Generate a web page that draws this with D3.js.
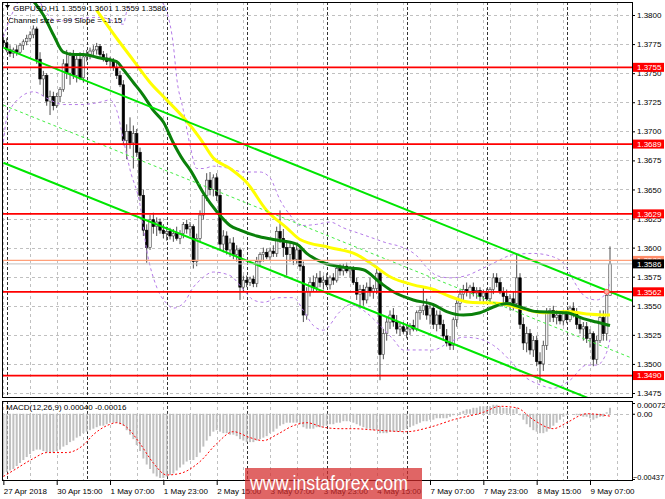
<!DOCTYPE html>
<html>
<head>
<meta charset="utf-8">
<script src="https://cdn.jsdelivr.net/npm/d3@7"></script>
<style>
  html, body { margin: 0; padding: 0; background: #fff; }
  svg { display: block; font-family: "Liberation Sans", Arial, sans-serif; }
</style>
</head>
<body>
<svg id="chart"></svg>
<script>
// GBPUSD H1 bars, [open, high, low, close], first bar 27 Apr 23:00
const candles = [
  [1.3778,1.3784,1.3772,1.3776],[1.3776,1.3780,1.3768,1.3770],[1.3770,1.3774,1.3764,1.3767],[1.3767,1.3772,1.3763,1.3770],
  [1.3770,1.3774,1.3765,1.3768],[1.3768,1.3776,1.3766,1.3774],[1.3774,1.3779,1.3770,1.3777],[1.3777,1.3783,1.3774,1.3780],
  [1.3780,1.3786,1.3777,1.3783],[1.3783,1.3791,1.3780,1.3788],[1.3788,1.3790,1.3758,1.3762],[1.3762,1.3768,1.3740,1.3745],
  [1.3745,1.3752,1.3730,1.3748],[1.3748,1.3750,1.3722,1.3726],[1.3726,1.3735,1.3714,1.3730],[1.3730,1.3734,1.3718,1.3722],
  [1.3722,1.3733,1.3720,1.3730],[1.3730,1.3738,1.3725,1.3736],[1.3736,1.3762,1.3734,1.3758],[1.3758,1.3770,1.3745,1.3750],
  [1.3750,1.3768,1.3740,1.3765],[1.3765,1.3770,1.3745,1.3748],[1.3748,1.3766,1.3742,1.3762],[1.3762,1.3768,1.3744,1.3746],
  [1.3746,1.3766,1.3742,1.3764],[1.3764,1.3770,1.3760,1.3766],[1.3766,1.3772,1.3762,1.3769],[1.3769,1.3774,1.3764,1.3770],
  [1.3770,1.3776,1.3766,1.3773],[1.3773,1.3775,1.3764,1.3766],[1.3766,1.3769,1.3760,1.3763],[1.3763,1.3767,1.3757,1.3760],
  [1.3760,1.3764,1.3755,1.3761],[1.3761,1.3763,1.3752,1.3755],[1.3755,1.3759,1.3745,1.3748],[1.3748,1.3752,1.3738,1.3740],
  [1.3740,1.3744,1.3688,1.3692],[1.3692,1.3706,1.3676,1.3700],[1.3700,1.3712,1.3685,1.3690],[1.3690,1.3705,1.3668,1.3698],
  [1.3698,1.3702,1.3678,1.3682],[1.3682,1.3686,1.3640,1.3645],[1.3645,1.3650,1.3610,1.3615],[1.3615,1.3620,1.3587,1.3600],
  [1.3600,1.3628,1.3598,1.3624],[1.3624,1.3630,1.3612,1.3618],[1.3618,1.3626,1.3610,1.3622],[1.3622,1.3625,1.3612,1.3615],
  [1.3615,1.3620,1.3608,1.3612],[1.3612,1.3618,1.3606,1.3614],[1.3614,1.3617,1.3607,1.3610],[1.3610,1.3616,1.3605,1.3612],
  [1.3612,1.3618,1.3606,1.3608],[1.3608,1.3615,1.3603,1.3612],[1.3612,1.3622,1.3608,1.3620],[1.3620,1.3624,1.3612,1.3616],
  [1.3616,1.3622,1.3610,1.3618],[1.3618,1.3620,1.3582,1.3588],[1.3588,1.3612,1.3584,1.3608],[1.3608,1.3632,1.3605,1.3628],
  [1.3628,1.3648,1.3624,1.3645],[1.3645,1.3664,1.3640,1.3658],[1.3658,1.3665,1.3645,1.3650],[1.3650,1.3663,1.3644,1.3660],
  [1.3660,1.3664,1.3640,1.3645],[1.3645,1.3650,1.3598,1.3603],[1.3603,1.3615,1.3596,1.3610],[1.3610,1.3614,1.3594,1.3598],
  [1.3598,1.3608,1.3592,1.3604],[1.3604,1.3609,1.3590,1.3594],[1.3594,1.3602,1.3588,1.3598],[1.3598,1.3600,1.3555,1.3566],
  [1.3566,1.3576,1.3562,1.3572],[1.3572,1.3576,1.3566,1.3570],[1.3570,1.3575,1.3567,1.3573],[1.3573,1.3576,1.3566,1.3569],
  [1.3569,1.3592,1.3566,1.3588],[1.3588,1.3596,1.3584,1.3594],[1.3594,1.3600,1.3588,1.3596],[1.3596,1.3599,1.3590,1.3592],
  [1.3592,1.3600,1.3589,1.3597],[1.3597,1.3602,1.3592,1.3595],[1.3595,1.3618,1.3592,1.3614],[1.3614,1.3632,1.3604,1.3608],
  [1.3608,1.3616,1.3592,1.3600],[1.3600,1.3606,1.3576,1.3594],[1.3594,1.3604,1.3588,1.3600],[1.3600,1.3604,1.3585,1.3590],
  [1.3590,1.3602,1.3586,1.3598],[1.3598,1.3602,1.3580,1.3584],[1.3584,1.3588,1.3536,1.3542],[1.3542,1.3566,1.3538,1.3562],
  [1.3562,1.3574,1.3558,1.3570],[1.3570,1.3576,1.3562,1.3566],[1.3566,1.3578,1.3562,1.3574],[1.3574,1.3580,1.3566,1.3570],
  [1.3570,1.3576,1.3564,1.3572],[1.3572,1.3578,1.3566,1.3568],[1.3568,1.3576,1.3564,1.3574],[1.3574,1.3578,1.3568,1.3572],
  [1.3572,1.3584,1.3570,1.3582],[1.3582,1.3586,1.3576,1.3580],[1.3580,1.3586,1.3576,1.3584],[1.3584,1.3587,1.3578,1.3580],
  [1.3580,1.3584,1.3574,1.3582],[1.3582,1.3584,1.3568,1.3570],[1.3570,1.3574,1.3555,1.3560],[1.3560,1.3568,1.3548,1.3564],
  [1.3564,1.3568,1.3550,1.3555],[1.3555,1.3570,1.3552,1.3566],[1.3566,1.3574,1.3558,1.3562],[1.3562,1.3568,1.3556,1.3565],
  [1.3565,1.3582,1.3560,1.3578],[1.3578,1.3580,1.3486,1.3508],[1.3508,1.3530,1.3504,1.3526],[1.3526,1.3540,1.3520,1.3536],
  [1.3536,1.3546,1.3530,1.3542],[1.3542,1.3548,1.3532,1.3536],[1.3536,1.3542,1.3526,1.3530],[1.3530,1.3536,1.3524,1.3532],
  [1.3532,1.3536,1.3526,1.3528],[1.3528,1.3534,1.3522,1.3530],[1.3530,1.3535,1.3525,1.3533],[1.3533,1.3538,1.3528,1.3530],
  [1.3530,1.3546,1.3528,1.3544],[1.3544,1.3550,1.3538,1.3546],[1.3546,1.3566,1.3542,1.3550],[1.3550,1.3556,1.3538,1.3542],
  [1.3542,1.3552,1.3534,1.3548],[1.3548,1.3552,1.3530,1.3534],[1.3534,1.3546,1.3528,1.3542],[1.3542,1.3546,1.3530,1.3534],
  [1.3534,1.3538,1.3520,1.3524],[1.3524,1.3530,1.3515,1.3518],[1.3518,1.3524,1.3512,1.3516],[1.3516,1.3540,1.3512,1.3538],
  [1.3538,1.3556,1.3532,1.3552],[1.3552,1.3564,1.3546,1.3560],[1.3560,1.3568,1.3555,1.3564],[1.3564,1.3570,1.3558,1.3562],
  [1.3562,1.3568,1.3556,1.3566],[1.3566,1.3570,1.3558,1.3561],[1.3561,1.3566,1.3556,1.3563],[1.3563,1.3566,1.3554,1.3558],
  [1.3558,1.3564,1.3552,1.3561],[1.3561,1.3565,1.3554,1.3556],[1.3556,1.3566,1.3552,1.3564],[1.3564,1.3578,1.3560,1.3574],
  [1.3574,1.3578,1.3566,1.3570],[1.3570,1.3574,1.3560,1.3562],[1.3562,1.3566,1.3552,1.3558],[1.3558,1.3564,1.3550,1.3553],
  [1.3553,1.3560,1.3546,1.3556],[1.3556,1.3562,1.3546,1.3552],[1.3552,1.3594,1.3548,1.3574],[1.3574,1.3578,1.3530,1.3534],
  [1.3534,1.3540,1.3512,1.3518],[1.3518,1.3532,1.3510,1.3526],[1.3526,1.3530,1.3508,1.3512],[1.3512,1.3524,1.3506,1.3520],
  [1.3520,1.3524,1.3498,1.3502],[1.3502,1.3510,1.3484,1.3500],[1.3500,1.3520,1.3494,1.3516],[1.3516,1.3548,1.3512,1.3544],
  [1.3544,1.3548,1.3536,1.3546],[1.3546,1.3550,1.3536,1.3540],[1.3540,1.3546,1.3534,1.3542],[1.3542,1.3545,1.3534,1.3537],
  [1.3537,1.3546,1.3533,1.3543],[1.3543,1.3546,1.3535,1.3538],[1.3538,1.3550,1.3536,1.3548],[1.3548,1.3553,1.3540,1.3544],
  [1.3544,1.3548,1.3530,1.3534],[1.3534,1.3540,1.3526,1.3530],[1.3530,1.3536,1.3520,1.3532],[1.3532,1.3536,1.3518,1.3522],
  [1.3522,1.3530,1.3514,1.3526],[1.3526,1.3528,1.3498,1.3504],[1.3504,1.3524,1.3500,1.3520],[1.3520,1.3546,1.3518,1.3540],
  [1.3540,1.3546,1.3520,1.3526],[1.3526,1.3562,1.3520,1.3559],[1.3559,1.3601,1.3559,1.3586]
];

// moving averages and bands, [bar, price]
const yellowMA = [[28,1.3804],[34,1.3780],[39,1.3761],[44,1.3742],[49,1.3727],[54,1.3712],[59,1.3694],[63,1.3677],
  [68,1.3668],[73,1.3656],[79,1.3632],[85,1.3617],[89,1.3607],[98,1.3600],[106,1.3594],[111,1.3585],[116,1.3575],
  [123,1.3568],[129,1.3564],[134,1.3558],[140,1.3553],[149,1.3552],[155,1.3548],[162,1.3544],[169,1.3545],[175,1.3543],[182,1.3542]];
const greenMA = [[9,1.3812],[12,1.3800],[15,1.3783],[18,1.3768],[21,1.3766],[24,1.3766],[29,1.3763],[34,1.3760],
  [36,1.3753],[39,1.3742],[42,1.3731],[45,1.3718],[48,1.3708],[51,1.3690],[54,1.3675],[56,1.3667],[60,1.3647],
  [64,1.3631],[68,1.3619],[71,1.3615],[76,1.3610],[81,1.3607],[88,1.3603],[91,1.3595],[96,1.3587],[102,1.3583],
  [108,1.3581],[113,1.3570],[117,1.3562],[123,1.3555],[129,1.3551],[133,1.3545],[138,1.3542],[143,1.3544],
  [148,1.3550],[151,1.3552],[155,1.3549],[160,1.3545],[169,1.3544],[174,1.3539],[178,1.3536],[182,1.3533]];
const bandUpper = [[0,1.3781],[2,1.3797],[4,1.3809],[6,1.3818],[9,1.3820],[12,1.3806],[15,1.3796],[18,1.3795],
  [23,1.3797],[29,1.3798],[33,1.3795],[36,1.3792],[37,1.3803],[40,1.3816],[44,1.3820],[47,1.3813],[49,1.3803],
  [51,1.3774],[52,1.3746],[54,1.3718],[56,1.3688],[58,1.3668],[60,1.3668],[63,1.3670],[68,1.3668],[72,1.3665],
  [77,1.3665],[80,1.3660],[83,1.3641],[86,1.3628],[89,1.3619],[94,1.3620],[98,1.3622],[102,1.3617],[107,1.3612],
  [112,1.3607],[115,1.3604],[119,1.3601],[124,1.3593],[127,1.3583],[130,1.3576],[134,1.3574],[139,1.3576],
  [143,1.3581],[148,1.3588],[153,1.3594],[159,1.3595],[165,1.3592],[169,1.3583],[171,1.3572],[175,1.3557],
  [178,1.3555],[181,1.3562],[182,1.3570]];
const bandLower = [[0,1.3691],[1,1.3711],[5,1.3729],[9,1.3734],[14,1.3727],[18,1.3723],[23,1.3723],[29,1.3725],
  [32,1.3727],[34,1.3718],[36,1.3693],[38,1.3667],[41,1.3637],[43,1.3598],[46,1.3566],[49,1.3552],[51,1.3548],
  [54,1.3552],[57,1.3566],[59,1.3572],[63,1.3579],[68,1.3576],[72,1.3564],[75,1.3555],[78,1.3553],[83,1.3557],
  [87,1.3557],[90,1.3546],[93,1.3533],[96,1.3529],[101,1.3545],[104,1.3551],[108,1.3546],[113,1.3533],[117,1.3521],
  [120,1.3512],[124,1.3512],[129,1.3512],[134,1.3519],[138,1.3523],[142,1.3522],[147,1.3516],[152,1.3503],
  [156,1.3490],[161,1.3482],[165,1.3479],[170,1.3486],[175,1.3499],[178,1.3499],[181,1.3510],[182,1.3521]];

// trend channel: upper line anchors [bar, price], size in price
const channelUpper = [[0,1.3772],[189,1.3554]];
const channelSize = 0.0099;

const levels = [1.3755, 1.3689, 1.3629, 1.3562, 1.3490];
const bidPrice = 1.3586;
const askPrice = 1.3589;
const priceTicks = [1.3800,1.3775,1.3750,1.3725,1.3700,1.3675,1.3650,1.3625,1.3600,1.3575,1.3550,1.3525,1.3500,1.3475];

const timeTicks = [0,16,32,48,64,80,96,112,128,144,160,176];
const timeLabels = ["27 Apr 2018","30 Apr 15:00","1 May 07:00","1 May 23:00","2 May 15:00","3 May 07:00",
  "3 May 23:00","4 May 15:00","7 May 07:00","7 May 23:00","8 May 15:00","9 May 07:00"];
const daySeparators = [1,25,49,73,97,121,145,169];

// MACD(12,26,9) main histogram per bar, and signal [bar, value]
const macdHist = [
  -0.0040,-0.0039,-0.0038,-0.0037,-0.0035,-0.0033,-0.0031,-0.0029,-0.0027,-0.0025,-0.0024,
  -0.0024,-0.0025,-0.0026,-0.0026,-0.0026,-0.0025,-0.0024,-0.0022,-0.0021,-0.0019,-0.0018,-0.0016,-0.0015,
  -0.0013,-0.0012,-0.0011,-0.0010,-0.0009,-0.0008,-0.0008,-0.0007,-0.0006,-0.0006,-0.0006,-0.0007,-0.0008,
  -0.0011,-0.0014,-0.0017,-0.0021,-0.0025,-0.0030,-0.0034,-0.0037,-0.0040,
  -0.0042,-0.0043,-0.0043,-0.0042,-0.0041,-0.0040,-0.0038,-0.0036,-0.0034,-0.0032,-0.0031,-0.0031,
  -0.0029,-0.0026,-0.0022,-0.0018,-0.0015,-0.0012,-0.0011,-0.0012,-0.0013,-0.0013,-0.0014,-0.0014,
  -0.0015,-0.0017,-0.0018,-0.0019,-0.0019,-0.0019,-0.0018,-0.0017,-0.0016,-0.0015,-0.0013,-0.0012,-0.0010,-0.0008,-0.0007,-0.0006,
  -0.0006,-0.0006,-0.0006,-0.0007,-0.0009,-0.0010,
  -0.0010,-0.0010,-0.0009,-0.0009,-0.0008,-0.0008,-0.0007,-0.0007,-0.0006,-0.0006,
  -0.0005,-0.0005,-0.0005,-0.0006,-0.0007,-0.0008,-0.0009,-0.0010,-0.0010,-0.0011,-0.0011,
  -0.0013,-0.0013,-0.0013,-0.0012,-0.0012,-0.0012,-0.0012,-0.0011,
  -0.0010,-0.0009,-0.0008,-0.0007,-0.0006,-0.0005,-0.0005,
  -0.0004,-0.0004,-0.0003,-0.0003,-0.0003,-0.0003,-0.0002,-0.0001,0.0000,0.0001,
  0.0002,0.0003,0.0003,0.0004,0.0004,0.0005,0.0005,0.0005,
  0.0005,0.0006,0.0006,0.0005,0.0004,0.0004,0.0004,0.0003,0.0004,
  -0.0001,-0.0004,-0.0007,-0.0009,-0.0011,-0.0012,-0.0013,-0.0013,-0.0012,-0.0010,
  -0.0008,-0.0006,-0.0004,-0.0002,-0.0001,0.0000,0.0000,-0.0001,-0.0001,-0.0002,-0.0002,-0.0003,
  -0.0004,-0.0003,-0.0002,-0.0002,0.0001,0.0004
];
const macdSignal = [[0,-0.0042],[3,-0.0038],[9,-0.0030],[13,-0.0026],[19,-0.0026],[24,-0.0021],[27,-0.0014],
  [31,-0.0008],[34,-0.0006],[37,-0.0009],[41,-0.0020],[45,-0.0033],[49,-0.0041],[53,-0.0040],[59,-0.0032],
  [64,-0.0020],[69,-0.0012],[74,-0.0016],[78,-0.0018],[82,-0.0014],[87,-0.0008],[91,-0.0006],[96,-0.0009],
  [101,-0.0010],[105,-0.0010],[112,-0.0011],[121,-0.0012],[128,-0.0009],[135,-0.0004],[144,0.0001],
  [149,0.0005],[154,0.0004],[159,-0.0004],[165,-0.0010],[169,-0.0006],[175,0.0000],[182,-0.00016]];
const macdTicks = [0.00072, 0, -0.00437];

// layout
const width = 665, height = 499;
const left = 2, right = 632;
const mainTop = 2, mainBottom = 398;
const subTop = 401, subBottom = 481;
const font = 8;

const svg = d3.select("#chart").attr("width", width).attr("height", height);

const x = d3.scaleLinear().domain([0, candles.length - 1]).range([3.37, 610]);
const y = d3.scaleLinear().domain([1.3475, 1.3800]).range([393, 15]);
const yM = d3.scaleLinear().domain([-0.00437, 0.00072]).range([479, 403]);

svg.append("rect").attr("width", width).attr("height", height).attr("fill", "#fff");

const defs = svg.append("defs");
defs.append("clipPath").attr("id", "clipMain").append("rect")
  .attr("x", left).attr("y", mainTop).attr("width", right - left).attr("height", mainBottom - mainTop);
defs.append("clipPath").attr("id", "clipSub").append("rect")
  .attr("x", left).attr("y", subTop).attr("width", right - left).attr("height", subBottom - subTop);

const main = svg.append("g").attr("clip-path", "url(#clipMain)");
const sub = svg.append("g").attr("clip-path", "url(#clipSub)");

// grid
main.selectAll(".hgrid").data(priceTicks).enter().append("line")
  .attr("x1", left).attr("x2", right)
  .attr("y1", d => Math.round(y(d)) + 0.5).attr("y2", d => Math.round(y(d)) + 0.5)
  .attr("stroke", "#c0c0c0").attr("stroke-dasharray", "3,3");

const gridBars = d3.range(0, 189, 8);
[[main, mainTop, mainBottom], [sub, subTop, subBottom]].forEach(([g, t, b]) => {
  g.selectAll(".vgrid").data(gridBars).enter().append("line")
    .attr("x1", d => Math.round(x(d)) + 0.5).attr("x2", d => Math.round(x(d)) + 0.5)
    .attr("y1", t).attr("y2", b)
    .attr("stroke", "#c0c0c0").attr("stroke-dasharray", "3,3");
  g.selectAll(".sep").data(daySeparators).enter().append("line")
    .attr("x1", d => Math.round(x(d)) + 0.5).attr("x2", d => Math.round(x(d)) + 0.5)
    .attr("y1", t).attr("y2", b)
    .attr("stroke", "#333").attr("stroke-dasharray", "3,2");
});

// candles
const bw = 2.5;
const bars = main.selectAll(".bar").data(candles).enter().append("g");
bars.append("line")
  .attr("x1", (d, i) => x(i)).attr("x2", (d, i) => x(i))
  .attr("y1", d => y(d[1])).attr("y2", d => y(d[2]))
  .attr("stroke", "#222").attr("stroke-width", 0.8);
bars.append("rect")
  .attr("x", (d, i) => x(i) - bw / 2)
  .attr("y", d => y(Math.max(d[0], d[3])))
  .attr("width", bw)
  .attr("height", d => Math.max(0.8, Math.abs(y(d[0]) - y(d[3]))))
  .attr("fill", d => d[3] >= d[0] ? "#f2f2f2" : "#000")
  .attr("stroke", d => d[3] >= d[0] ? "#444" : "#000")
  .attr("stroke-width", 0.6);

// indicators
const line = d3.line().x(d => x(d[0])).y(d => y(d[1])).curve(d3.curveMonotoneX);
[bandUpper, bandLower].forEach(b => {
  main.append("path").attr("d", line(b)).attr("fill", "none")
    .attr("stroke", "#b57be8").attr("stroke-width", 1).attr("stroke-dasharray", "3,3");
});
main.append("path").attr("d", line(yellowMA)).attr("fill", "none")
  .attr("stroke", "#ffff00").attr("stroke-width", 3);
main.append("path").attr("d", line(greenMA)).attr("fill", "none")
  .attr("stroke", "#0a800a").attr("stroke-width", 3);

// channel
const chLine = d3.line().x(d => x(d[0])).y(d => y(d[1]));
const shift = off => channelUpper.map(p => [p[0], p[1] - off]);
main.append("path").attr("d", chLine(shift(0))).attr("stroke", "#00e600").attr("stroke-width", 2).attr("fill", "none");
main.append("path").attr("d", chLine(shift(channelSize))).attr("stroke", "#00e600").attr("stroke-width", 2).attr("fill", "none");
main.append("path").attr("d", chLine(shift(channelSize / 2))).attr("stroke", "#44ee44")
  .attr("stroke-width", 1).attr("stroke-dasharray", "3,3").attr("fill", "none");

// horizontal levels
main.selectAll(".level").data(levels).enter().append("line")
  .attr("x1", left).attr("x2", right)
  .attr("y1", d => y(d)).attr("y2", d => y(d))
  .attr("stroke", "#ff0000").attr("stroke-width", 1.8);
main.append("line").attr("x1", left).attr("x2", right)
  .attr("y1", y(askPrice)).attr("y2", y(askPrice)).attr("stroke", "#ffa07a").attr("stroke-width", 1.2);
main.append("line").attr("x1", left).attr("x2", right)
  .attr("y1", y(bidPrice)).attr("y2", y(bidPrice)).attr("stroke", "#c0c0c0").attr("stroke-width", 1);

// alert marker on the last bar
main.append("circle").attr("cx", x(181)).attr("cy", y(1.3562)).attr("r", 2.5)
  .attr("fill", "#ffb0a0").attr("stroke", "#ff5050").attr("stroke-width", 1);

// MACD
sub.append("line").attr("x1", left).attr("x2", right)
  .attr("y1", Math.round(yM(0)) + 0.5).attr("y2", Math.round(yM(0)) + 0.5)
  .attr("stroke", "#c0c0c0").attr("stroke-dasharray", "3,3");
sub.selectAll(".hist").data(macdHist).enter().append("rect")
  .attr("x", (d, i) => x(i) - 1)
  .attr("y", d => Math.min(yM(d), yM(0)))
  .attr("width", 2)
  .attr("height", d => Math.abs(yM(d) - yM(0)))
  .attr("fill", "#c0c0c0");
sub.append("path").attr("d", d3.line().x(d => x(d[0])).y(d => yM(d[1])).curve(d3.curveMonotoneX)(macdSignal))
  .attr("fill", "none").attr("stroke", "#ff0000").attr("stroke-width", 1).attr("stroke-dasharray", "2,2");

// frames
svg.append("rect").attr("x", left + 0.5).attr("y", mainTop + 0.5)
  .attr("width", right - left).attr("height", mainBottom - mainTop - 1)
  .attr("fill", "none").attr("stroke", "#000");
svg.append("rect").attr("x", left + 0.5).attr("y", subTop + 0.5)
  .attr("width", right - left).attr("height", subBottom - subTop - 1)
  .attr("fill", "none").attr("stroke", "#000");

// axes
const styleAxis = g => {
  g.select(".domain").remove();
  g.selectAll("text").attr("font-size", font).attr("font-family", '"Liberation Sans", Arial, sans-serif').attr("fill", "#000");
  g.selectAll("line").attr("stroke", "#000");
};
svg.append("g").attr("transform", `translate(${right},0)`)
  .call(d3.axisRight(y).tickValues(priceTicks).tickFormat(d3.format(".4f")).tickSize(3).tickPadding(2))
  .call(styleAxis);
svg.append("g").attr("transform", `translate(${right},0)`)
  .call(d3.axisRight(yM).tickValues(macdTicks).tickFormat(d => d === 0 ? "0.00" : d3.format(".5f")(d)).tickSize(3).tickPadding(2))
  .call(styleAxis)
  .call(g => g.selectAll(".tick text").attr("dy", d => d === 0.00072 ? "0.6em" : d < 0 ? "0em" : "0.32em"))
  .call(g => g.selectAll(".tick text").filter(d => d < 0).attr("x", 1).attr("font-size", 7.4));
svg.append("g").attr("transform", `translate(0,${subBottom})`)
  .call(d3.axisBottom(x).tickValues(timeTicks).tickFormat((d, i) => timeLabels[i]).tickSize(4).tickPadding(3))
  .call(styleAxis)
  .call(g => g.selectAll(".tick text").attr("text-anchor", "start").attr("x", 0));

// price labels of levels, ask and bid
const tag = (price, fill) => {
  const g = svg.append("g").attr("transform", `translate(${right + 1},${y(price)})`);
  g.append("rect").attr("x", 0).attr("y", -4.5).attr("width", 31).attr("height", 9).attr("fill", fill);
  g.append("text").attr("x", 4).attr("dy", "0.34em").attr("font-size", font).attr("fill", "#fff")
    .text(d3.format(".4f")(price));
};
levels.forEach(l => tag(l, "#ff0000"));
tag(askPrice, "#ff8c69");
tag(bidPrice, "#000");

// header texts
svg.append("path").attr("d", "M5,5 L10,5 L7.5,8.5 Z").attr("fill", "#000");
svg.append("text").attr("x", 13).attr("y", 10.5).attr("font-size", font)
  .text("GBPUSD,H1  1.3559 1.3601 1.3559 1.3586");
svg.append("text").attr("x", 8).attr("y", 23).attr("font-size", font)
  .text("Channel size = 99 Slope = -1.15");
svg.append("text").attr("x", 6).attr("y", 410).attr("font-size", font)
  .text("MACD(12,26,9) 0.00040 -0.00016");

// watermark
svg.append("rect").attr("x", 245).attr("y", 468).attr("width", 177).attr("height", 31)
  .attr("fill", "#d42a2a").attr("opacity", 0.72);
svg.append("text").attr("x", 250).attr("y", 490).attr("font-size", 21).attr("fill", "#fff")
  .attr("textLength", 158).attr("lengthAdjust", "spacingAndGlyphs")
  .text("www.instaforex.com");
</script>
</body>
</html>
